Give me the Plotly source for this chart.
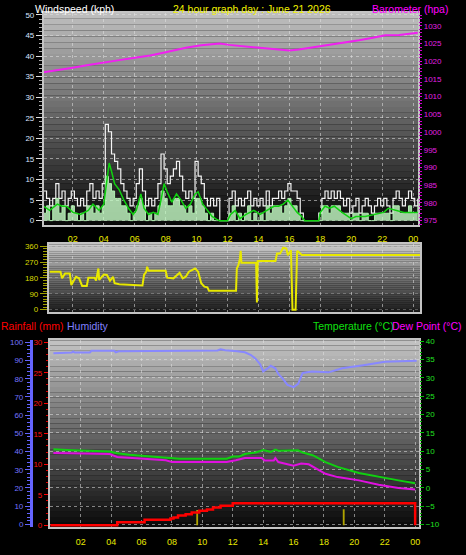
import plotly.graph_objects as go

W, H = 466, 555
FONT = "Liberation Sans, Arial, sans-serif"

# ---------------- data ----------------
hour_ticks = [2, 4, 6, 8, 10, 12, 14, 16, 18, 20, 22, 24]
hour_labels = ["02", "04", "06", "08", "10", "12", "14", "16", "18", "20", "22", "00"]

# wind samples every 12 minutes starting 00:06
wind_t = [round(0.1 + 0.2 * i, 2) for i in range(122)]
gust_v = [
    7.2, 5.4, 3.6, 5.4, 9.0, 5.4, 7.2, 3.6, 5.4, 7.2,
    5.4, 3.6, 5.4, 3.6, 7.2, 9.0, 5.4, 7.2, 5.4, 9.0,
    23.4, 21.6, 16.2, 14.4, 12.6, 9.0, 7.2, 5.4, 3.6, 5.4,
    9.0, 12.6, 7.2, 3.6, 5.4, 3.6, 5.4, 9.0, 16.2, 12.6,
    9.0, 10.8, 12.6, 14.4, 10.8, 7.2, 5.4, 7.2, 5.4, 14.4,
    10.8, 9.0, 5.4, 3.6, 5.4, 3.6, 5.4, 0, 0, 0,
    5.4, 7.2, 3.6, 5.4, 3.6, 5.4, 7.2, 3.6, 5.4, 3.6,
    5.4, 3.6, 7.2, 3.6, 5.4, 5.4, 7.2, 5.4, 7.2, 9.0,
    7.2, 7.2, 5.4, 1.8, 0, 0, 0, 0, 0, 1.8,
    5.4, 7.2, 5.4, 7.2, 5.4, 7.2, 5.4, 3.6, 5.4, 1.8,
    3.6, 5.4, 1.8, 3.6, 5.4, 3.6, 1.8, 3.6, 5.4, 3.6,
    5.4, 3.6, 1.8, 5.4, 7.2, 5.4, 3.6, 5.4, 7.2, 5.4,
    3.6, 5.4]
speed_v = [
    1.8, 3.6, 0, 3.6, 5.4, 1.8, 3.6, 0, 1.8, 3.6,
    1.8, 0, 1.8, 0, 3.6, 3.6, 1.8, 3.6, 1.8, 3.6,
    10.8, 9.0, 7.2, 5.4, 5.4, 3.6, 3.6, 1.8, 0, 1.8,
    3.6, 5.4, 3.6, 0, 1.8, 0, 1.8, 3.6, 7.2, 5.4,
    3.6, 3.6, 5.4, 5.4, 3.6, 3.6, 1.8, 3.6, 1.8, 5.4,
    5.4, 3.6, 1.8, 0, 1.8, 0, 0, 0, 0, 0,
    1.8, 3.6, 0, 1.8, 0, 1.8, 3.6, 0, 1.8, 0,
    1.8, 0, 3.6, 1.8, 3.6, 3.6, 3.6, 1.8, 3.6, 5.4,
    3.6, 3.6, 1.8, 0, 0, 0, 0, 0, 0, 0,
    3.6, 3.6, 1.8, 3.6, 3.6, 3.6, 1.8, 1.8, 1.8, 0,
    1.8, 1.8, 0, 1.8, 1.8, 0, 0, 1.8, 1.8, 1.8,
    1.8, 1.8, 0, 3.6, 3.6, 1.8, 1.8, 1.8, 3.6, 1.8,
    1.8, 3.6]

avg_t = [0.1, 0.5, 1.0, 1.3, 1.6, 2.0, 2.5, 3.0, 3.3, 3.7, 4.0, 4.2, 4.35, 4.5, 4.7,
         5.0, 5.3, 5.6, 5.9, 6.1, 6.4, 6.6, 6.9, 7.2, 7.5, 7.7, 7.9, 8.1, 8.4, 8.7,
         9.0, 9.3, 9.6, 9.9, 10.1, 10.4, 10.7, 11.0, 11.3, 11.5, 12.0, 12.2, 12.5, 12.8, 13.2,
         13.7, 14.1, 14.6, 15.0, 15.3, 15.6, 15.9, 16.2, 16.5, 16.8, 17.0, 17.9, 18.0, 18.3, 18.6,
         18.9, 19.4, 20.0, 20.3, 20.9, 21.5, 22.1, 22.4, 23.0, 23.4, 24.3]
avg_v = [3.5, 2.5, 4.0, 3.5, 3.5, 2.0, 1.5, 2.5, 4.0, 2.5, 4.0, 10.5, 14.0, 12.0, 9.0,
         7.5, 5.0, 3.0, 1.5, 2.5, 6.5, 3.0, 1.5, 2.0, 1.5, 5.0, 9.0, 7.0, 4.5, 6.5,
         5.0, 3.0, 4.0, 6.5, 7.0, 4.0, 2.5, 1.0, 0.3, 0, 0, 1.5, 2.5, 0.5, 1.5,
         2.5, 1.5, 2.5, 3.5, 3.5, 4.0, 5.0, 3.5, 2.0, 1.0, 0, 0, 2.0, 3.5, 3.0,
         3.5, 2.0, 0.5, 1.0, 1.0, 1.5, 2.0, 3.0, 2.5, 2.0, 2.0]

baro_t = [0.1, 1.0, 1.9, 3.0, 4.0, 5.0, 5.9, 7.0, 8.0, 9.3, 10.3, 11.0, 11.5, 12.1, 13.0,
          14.0, 15.0, 16.0, 16.6, 17.5, 18.6, 19.5, 20.5, 21.4, 22.2, 23.1, 24.3]
baro_v = [1016.9, 1017.4, 1018.1, 1018.9, 1019.7, 1020.3, 1020.9, 1021.6, 1022.5, 1023.8,
          1024.5, 1024.9, 1025.0, 1024.6, 1024.2, 1023.7, 1023.3, 1023.0, 1023.3, 1023.9,
          1024.6, 1025.1, 1025.9, 1026.6, 1027.3, 1027.4, 1028.0]

dir_t = [0.5, 1.2, 1.3, 1.5, 1.8, 1.9, 2.2, 2.4, 2.6, 2.9, 3.0, 3.4, 3.5, 3.65, 3.7,
         4.0, 4.2, 4.4, 4.6, 4.7, 5.0, 5.6, 6.3, 6.5, 6.6, 6.75, 6.8, 6.9, 8.0, 8.1,
         8.5, 8.9, 9.1, 9.3, 9.5, 9.9, 10.1, 10.3, 10.5, 10.7, 10.8, 12.55, 12.6, 12.7, 12.8,
         12.85, 12.9, 13.85, 13.9, 13.95, 15.1, 15.2, 15.4, 15.6, 15.8, 15.9, 16.1, 16.2, 16.4, 16.5,
         16.6, 16.8, 24.45]
dir_v = [216, 216, 178, 206, 206, 140, 187, 178, 135, 135, 182, 182, 165, 234, 169,
         200, 197, 165, 187, 150, 144, 140, 137, 137, 197, 216, 244, 221, 221, 182,
         178, 210, 178, 187, 216, 234, 216, 150, 131, 127, 107, 107, 234, 253, 290,
         334, 266, 266, 41, 277, 277, 319, 319, 352, 347, 309, 337, 0, 0, 334,
         328, 311, 311]
compass_vals = [0, 90, 180, 270, 360]
compass_text = ["N", "E", "S", "W", "N"]

rain_t = [0.0, 4.4, 6.2, 7.9, 8.1, 8.4, 8.9, 9.3, 9.8, 10.3, 10.7, 11.2, 12.0, 24.0]
rain_v = [0, 0.5, 0.9, 1.1, 1.3, 1.6, 1.8, 2.1, 2.4, 2.6, 2.9, 3.2, 3.6, 0]
rate_t = [9.66, 19.3]
rate_v = [2.5, 2.65]

hum_t = [0.2, 1.4, 1.5, 1.6, 2.6, 2.7, 4.2, 4.3, 4.5, 11.0, 11.2, 11.5, 12.3, 12.8, 13.2,
         13.5, 13.8, 14.0, 14.3, 14.5, 14.8, 15.0, 15.3, 15.6, 16.0, 16.3, 16.6, 17.2, 18.3, 19.2,
         20.7, 22.0, 24.1]
hum_v = [94.0, 94.4, 95.0, 94.4, 94.4, 95.3, 95.3, 94.5, 95.1, 95.5, 96.2, 95.7, 95.1, 94.5, 93.0,
         91.0, 88.0, 84.0, 85.7, 87.1, 85.7, 82.6, 79.9, 76.6, 75.4, 77.2, 83.2, 83.9, 83.5, 85.7,
         87.5, 89.3, 89.9]

temp_t = [0.2, 1.1, 3.9, 4.4, 5.2, 6.3, 7.6, 8.5, 11.6, 12.0, 12.4, 12.8, 13.5, 14.0, 14.5,
          14.8, 15.0, 16.3, 16.6, 17.3, 18.1, 18.9, 20.3, 21.6, 22.9, 24.0]
temp_v = [10.5, 10.3, 9.9, 9.4, 9.0, 8.7, 8.3, 7.9, 7.9, 8.5, 8.5, 9.2, 9.6, 10.3, 9.8,
          10.4, 10.1, 10.2, 9.6, 8.8, 7.0, 5.7, 4.0, 2.9, 2.0, 1.2]

dew_t = [0.2, 3.9, 4.4, 5.9, 7.6, 8.0, 11.6, 12.2, 12.8, 13.9, 14.1, 14.7, 14.8, 15.0, 15.7,
         16.0, 16.5, 17.0, 17.5, 18.1, 18.9, 20.3, 21.6, 22.9, 24.0]
dew_v = [9.5, 9.2, 8.4, 7.9, 7.5, 7.0, 7.0, 7.5, 8.1, 8.1, 7.4, 7.4, 8.1, 7.0, 6.2,
         6.0, 6.6, 6.4, 5.2, 3.8, 2.9, 2.0, 0.8, -0.1, -0.5]

# ---------------- figure ----------------
fig = go.Figure()

# Panel 1: wind + barometer
fig.add_trace(go.Scatter(x=wind_t, y=gust_v, mode="lines", line=dict(color="#f4f4f4", width=1.2, shape="hv"),
                         xaxis="x", yaxis="y"))
fig.add_trace(go.Scatter(x=wind_t, y=speed_v, mode="lines", fill="tozeroy", fillcolor="rgba(200,255,200,0.8)",
                         line=dict(color="#b0f0b0", width=1, shape="hv"), xaxis="x", yaxis="y"))
fig.add_trace(go.Scatter(x=avg_t, y=avg_v, mode="lines", line=dict(color="#10d010", width=1.5),
                         xaxis="x", yaxis="y"))
fig.add_trace(go.Scatter(x=baro_t, y=baro_v, mode="lines", line=dict(color="#f020f0", width=2),
                         xaxis="x", yaxis="y2"))

# Panel 2: wind direction
fig.add_trace(go.Scatter(x=dir_t, y=dir_v, mode="lines", line=dict(color="#e8e800", width=2),
                         xaxis="x2", yaxis="y3"))

# Panel 3: rain, humidity, temperature, dew point
fig.add_trace(go.Bar(x=rate_t, y=rate_v, width=0.12, marker=dict(color="#b0a400", line=dict(width=0)),
                     xaxis="x3", yaxis="y5"))
fig.add_trace(go.Scatter(x=rain_t, y=rain_v, mode="lines", line=dict(color="#ff0000", width=2.5, shape="hv"),
                         xaxis="x3", yaxis="y5"))
fig.add_trace(go.Scatter(x=hum_t, y=hum_v, mode="lines", line=dict(color="#8888ff", width=2),
                         xaxis="x3", yaxis="y6"))
fig.add_trace(go.Scatter(x=temp_t, y=temp_v, mode="lines", line=dict(color="#10d010", width=2),
                         xaxis="x3", yaxis="y7"))
fig.add_trace(go.Scatter(x=dew_t, y=dew_v, mode="lines", line=dict(color="#e010e0", width=2),
                         xaxis="x3", yaxis="y7"))


def dom_x(a, b):
    return [a / W, b / W]


def dom_y(top, bottom):
    return [1 - bottom / H, 1 - top / H]


GRID = "rgba(225,225,225,0.55)"
BORDER = "#c4c4c4"


def gradient(xa, ya, top, bottom, n=36):
    out = []
    for i in range(n):
        f = (i + 0.5) / n
        c = int(round(bottom + (top - bottom) * f))
        out.append(dict(type="rect", xref=xa + " domain", yref=ya + " domain", x0=0, x1=1,
                        y0=i / n, y1=(i + 1) / n, fillcolor=f"rgb({c},{c},{c})",
                        line=dict(width=0), layer="below"))
    return out


shapes = gradient("x", "y", 192, 6) + gradient("x2", "y3", 205, 25) + gradient("x3", "y5", 196, 8)

xcommon = dict(tickvals=hour_ticks, ticktext=hour_labels, showgrid=True, gridcolor=GRID, griddash="dot",
               gridwidth=1, zeroline=False, showline=True, mirror=True, linecolor=BORDER, linewidth=2,
               ticks="outside", ticklen=5, tickcolor="rgba(0,0,0,0)",
               tickfont=dict(color="#e8e800", size=9, family=FONT))

layout = dict(
    width=W, height=H, margin=dict(l=0, r=0, t=0, b=0), paper_bgcolor="black", plot_bgcolor="black",
    showlegend=False, hovermode=False, font=dict(family=FONT),
    xaxis=dict(domain=dom_x(44, 419), range=[0.13, 24.32], anchor="y", **xcommon),
    yaxis=dict(domain=dom_y(10, 224), range=[-0.96, 50.5], tick0=0, dtick=5, ticks="outside", ticklen=6,
               tickcolor="#e0e0e0", minor=dict(dtick=1, ticks="outside", ticklen=3, tickcolor="#b0b0b0", showgrid=False),
               showgrid=True, gridcolor=GRID, griddash="dot", zeroline=False, showline=True, mirror=True,
               linecolor=BORDER, linewidth=2, tickfont=dict(color="#d8e4ff", size=8, family=FONT), anchor="x"),
    yaxis2=dict(domain=dom_y(10, 224), range=[973.88, 1033.63], overlaying="y", side="right", anchor="x",
                tick0=975, dtick=5, ticks="outside", ticklen=3, tickcolor="#e000e0",
                minor=dict(dtick=1, ticks="outside", ticklen=3, tickcolor="#d000d0", showgrid=False),
                showgrid=False, zeroline=False, tickfont=dict(color="#e020e0", size=8, family=FONT)),
    xaxis2=dict(domain=dom_x(49, 421), range=[0.45, 24.45], anchor="y3", tickvals=hour_ticks, showticklabels=False,
                ticks="", showgrid=True, gridcolor=GRID, griddash="dot", zeroline=False, showline=True, mirror=True,
                linecolor=BORDER, linewidth=2),
    yaxis3=dict(domain=dom_y(244, 312), range=[-11.25, 371.25], anchor="x2", tickvals=compass_vals,
                ticks="outside", ticklen=7, tickcolor="#a0a000",
                minor=dict(dtick=15, ticks="outside", ticklen=4, tickcolor="#a0a000", showgrid=False),
                showgrid=True, gridcolor="rgba(225,225,225,0.3)", griddash="dot", zeroline=False, showline=True,
                mirror=True, linecolor=BORDER, linewidth=2, tickfont=dict(color="#d8d800", size=8, family=FONT)),
    yaxis4=dict(domain=dom_y(244, 312), range=[-11.25, 371.25], overlaying="y3", side="right", anchor="x2",
                tickvals=compass_vals, ticktext=compass_text, ticks="outside", ticklen=11,
                tickcolor="rgba(0,0,0,0)", showgrid=False, zeroline=False,
                tickfont=dict(color="#f0f000", size=11, family=FONT)),
    xaxis3=dict(domain=dom_x(50, 420), range=[-0.03, 24.26], anchor="y5", **xcommon),
    yaxis5=dict(domain=dom_y(341, 530), range=[-0.32, 30.32], anchor="x3", tick0=0, dtick=5, ticks="outside",
                ticklen=4, tickcolor="#ff0000",
                minor=dict(dtick=1, ticks="outside", ticklen=2, tickcolor="#e00000", showgrid=False),
                showgrid=False, zeroline=False, showline=True, mirror=True, linecolor=BORDER, linewidth=2,
                tickfont=dict(color="#ff1010", size=8, family=FONT)),
    yaxis6=dict(domain=dom_y(341, 530), range=[-1.6, 101.1], overlaying="y5", anchor="free", position=31 / W,
                side="left", tick0=0, dtick=10, ticks="outside", ticklen=5, tickcolor="#6464ff",
                minor=dict(dtick=2, ticks="outside", ticklen=3, tickcolor="#6464ff", showgrid=False),
                showgrid=False, zeroline=False, showline=True, linecolor="#6464ff", linewidth=3,
                tickfont=dict(color="#7474ff", size=8, family=FONT)),
    yaxis7=dict(domain=dom_y(341, 530), range=[-10.81, 40.27], overlaying="y5", side="right", anchor="x3",
                tick0=0, dtick=5, ticks="outside", ticklen=4, tickcolor="#00c000",
                minor=dict(dtick=1, ticks="outside", ticklen=2, tickcolor="#00b000", showgrid=False),
                showgrid=True, gridcolor=GRID, griddash="dot", zeroline=False,
                tickfont=dict(color="#20e020", size=8, family=FONT)),
    shapes=shapes,
)
fig.update_layout(**layout)


def label(text, x, y, color):
    fig.add_annotation(text=text, x=x / W, y=1 - y / H, xref="paper", yref="paper", xanchor="left",
                       yanchor="middle", showarrow=False, borderpad=0,
                       font=dict(color=color, size=10.5, family=FONT))


label("Windspeed (kph)", 34, 6, "#ffffff")
label("24 hour graph day : June 21 2026", 172, 6, "#f0f000")
label("Barometer (hpa)", 372, 6, "#ff00ff")
label("Rainfall (mm)", 0, 327, "#ff0000")
label("Humidity", 66, 327, "#8080ff")
label("Temperature (°C)", 313, 327, "#10e010")
label("Dew Point (°C)", 392, 327, "#ff00ff")

fig.write_html("out.html", config={"displayModeBar": False, "staticPlot": True},
               post_script="document.body.style.margin='0';document.body.style.overflow='hidden';")
